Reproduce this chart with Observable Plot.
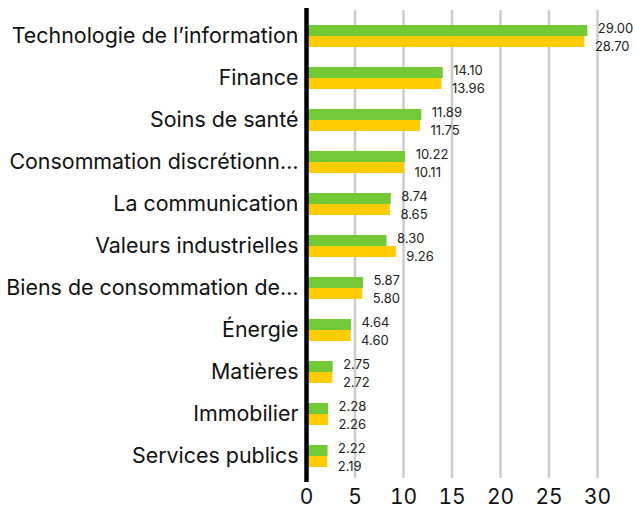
<!DOCTYPE html>
<html><head><meta charset="utf-8">
<script src="https://cdn.jsdelivr.net/npm/d3@7"></script>
<script src="https://cdn.jsdelivr.net/npm/@observablehq/plot@0.6"></script>
<style>body{margin:0;background:#fff;font-family:Inter,sans-serif}</style>
</head><body><div id="chart"></div>
<script>
const categories = ["Technologie de l’information","Finance","Soins de santé","Consommation discrétionn…","La communication","Valeurs industrielles","Biens de consommation de…","Énergie","Matières","Immobilier","Services publics"];
const seriesA = [29.00,14.10,11.89,10.22,8.74,8.30,5.87,4.64,2.75,2.28,2.22];
const seriesB = [28.70,13.96,11.75,10.11,8.65,9.26,5.80,4.60,2.72,2.26,2.19];
const xTicks = [0,5,10,15,20,25,30];
const green = "#74c936", yellow = "#ffcc00";
const A = categories.map((c,i)=>({cat:c, v:seriesA[i]}));
const B = categories.map((c,i)=>({cat:c, v:seriesB[i]}));
const chart = Plot.plot({
  width:635, height:511,
  marginLeft:306, marginRight:38, marginTop:11, marginBottom:30,
  style:{fontFamily:"Inter, sans-serif", color:"#222", background:"#fff"},
  x:{domain:[0,30], ticks:xTicks, label:null},
  y:{domain:categories, paddingInner:0.48, paddingOuter:0.24, label:null},
  marks:[
    Plot.gridX(xTicks.filter(d=>d>0), {stroke:"#cccccc", strokeOpacity:1, strokeWidth:2.5, insetTop:-1, insetBottom:3}),
    Plot.barX(A, {y:"cat", x1:0, x2:"v", fill:green, insetBottom:11, insetLeft:2}),
    Plot.barX(B, {y:"cat", x1:0, x2:"v", fill:yellow, insetTop:11, insetLeft:2}),
    Plot.text(A, {y:"cat", x:"v", text:d=>d.v.toFixed(2), dx:10, dy:-8, textAnchor:"start", fontSize:13, fill:"#222"}),
    Plot.text(B, {y:"cat", x:"v", text:d=>d.v.toFixed(2), dx:10, dy:10, textAnchor:"start", fontSize:13, fill:"#222"}),
    Plot.ruleX([0], {stroke:"#000", strokeWidth:4.5, insetTop:-3, insetBottom:-1}),
    Plot.axisY({tickSize:0, tickPadding:8, fontSize:21.4, label:null, fill:"#111"}),
    Plot.axisX({ticks:xTicks, tickSize:0, tickPadding:8, fontSize:21, label:null, fill:"#111"})
  ]
});
document.getElementById("chart").append(chart);
</script></body></html>
